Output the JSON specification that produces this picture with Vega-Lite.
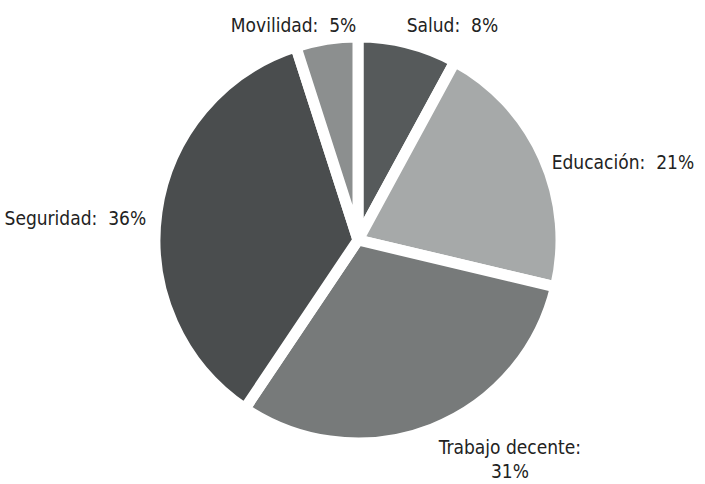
{
  "$schema": "https://vega.github.io/schema/vega-lite/v6.json",
  "width": 705,
  "height": 484,
  "autosize": {"type": "fit", "contains": "padding"},
  "padding": {"left": 10, "top": 4, "right": 0, "bottom": 8},
  "background": "white",
  "config": {"view": {"stroke": null}},
  "data": {
    "values": [
      {"idx": 1, "cat": "Salud", "pct": 8, "label": "Salud:\u00a0\u00a08%"},
      {"idx": 2, "cat": "Educación", "pct": 21, "label": "Educación:\u00a0\u00a021%"},
      {"idx": 3, "cat": "Trabajo decente", "pct": 31, "label": "Trabajo decente:\n31%"},
      {"idx": 4, "cat": "Seguridad", "pct": 36, "label": "Seguridad:\u00a0\u00a036%"},
      {"idx": 5, "cat": "Movilidad", "pct": 5, "label": "Movilidad:\u00a0\u00a05%"}
    ]
  },
  "encoding": {
    "theta": {"field": "pct", "type": "quantitative", "stack": true},
    "order": {"field": "idx", "type": "quantitative"}
  },
  "layer": [
    {
      "mark": {"type": "arc", "outerRadius": 203, "stroke": "white", "strokeWidth": 11, "strokeJoin": "round"},
      "encoding": {
        "color": {
          "field": "cat", "type": "nominal", "legend": null,
          "scale": {
            "domain": ["Salud", "Educación", "Trabajo decente", "Seguridad", "Movilidad"],
            "range": ["#565a5b", "#a6a9a9", "#777a7a", "#4a4d4e", "#8c8f8f"]
          }
        }
      }
    },
    {
      "mark": {"type": "text", "radius": 222, "align": "left", "baseline": "middle", "fontSize": 19, "font": "DejaVu Sans Condensed, Liberation Sans Narrow, Arial Narrow, sans-serif", "color": "#222222", "dx": -6, "dy": 1},
      "encoding": {"text": {"condition": {"test": "datum.cat === 'Salud'", "field": "label"}, "value": ""}}
    },
    {
      "mark": {"type": "text", "radius": 222, "align": "left", "baseline": "middle", "fontSize": 19, "font": "DejaVu Sans Condensed, Liberation Sans Narrow, Arial Narrow, sans-serif", "color": "#222222", "dx": -9, "dy": 14},
      "encoding": {"text": {"condition": {"test": "datum.cat === 'Educación'", "field": "label"}, "value": ""}}
    },
    {
      "mark": {"type": "text", "radius": 222, "align": "center", "baseline": "middle", "lineBreak": "\n", "lineHeight": 24, "fontSize": 19, "font": "DejaVu Sans Condensed, Liberation Sans Narrow, Arial Narrow, sans-serif", "color": "#222222", "dx": 71, "dy": 1},
      "encoding": {"text": {"condition": {"test": "datum.cat === 'Trabajo decente'", "field": "label"}, "value": ""}}
    },
    {
      "mark": {"type": "text", "radius": 222, "align": "right", "baseline": "middle", "fontSize": 19, "font": "DejaVu Sans Condensed, Liberation Sans Narrow, Arial Narrow, sans-serif", "color": "#222222", "dx": 8, "dy": 10},
      "encoding": {"text": {"condition": {"test": "datum.cat === 'Seguridad'", "field": "label"}, "value": ""}}
    },
    {
      "mark": {"type": "text", "radius": 222, "align": "center", "baseline": "middle", "fontSize": 19, "font": "DejaVu Sans Condensed, Liberation Sans Narrow, Arial Narrow, sans-serif", "color": "#222222", "dx": -30, "dy": 5},
      "encoding": {"text": {"condition": {"test": "datum.cat === 'Movilidad'", "field": "label"}, "value": ""}}
    }
  ]
}
